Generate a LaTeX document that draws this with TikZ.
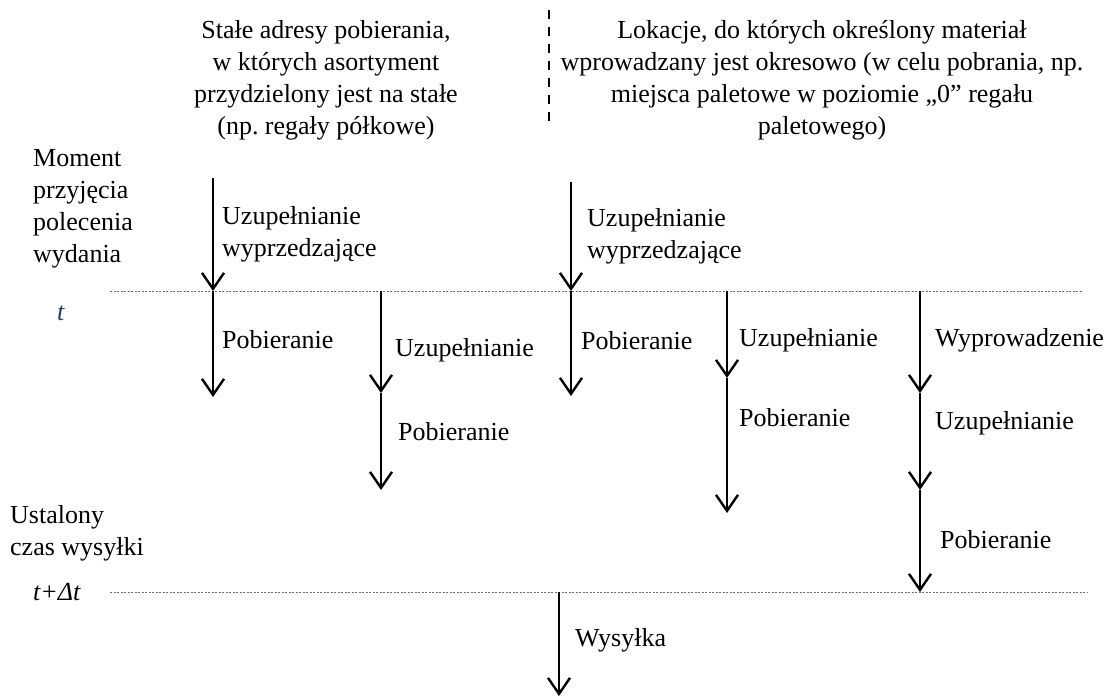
\documentclass[tikz,border=0pt]{standalone}
\usepackage{fontspec}
\setmainfont{Liberation Serif}
\usetikzlibrary{arrows.meta,positioning}
\frenchspacing
\definecolor{timeblue}{RGB}{38,58,98}
\definecolor{dotgray}{RGB}{110,110,110}
\tikzset{
  flow/.style={-{Straight Barb[length=16pt,width=22pt]}, line width=2.4pt},
  timeline/.style={draw=dotgray, line width=1pt, dash pattern=on 2pt off 1.5pt},
  divider/.style={line width=2.6pt, dash pattern=on 9pt off 8pt},
  lbl/.style={anchor=west, align=left, inner sep=0pt},
  head/.style={align=center, inner sep=0pt}
}

\begin{document}
\begin{tikzpicture}[x=1pt, y=-1pt, font=\fontsize{26}{32}\selectfont]
  \useasboundingbox (0,0) rectangle (1115,698);

  % --- headers ---
  \node[head] (fixedhead) at (326,80)
       {Stałe adresy pobierania,\\ w których asortyment\\ przydzielony jest na stałe\\ (np. regały półkowe)};
  \node[head] (varhead) at (822,80)
       {Lokacje, do których określony materiał\\ wprowadzany jest okresowo (w celu pobrania, np.\\ miejsca paletowe w poziomie „0” regału\\ paletowego)};
  \coordinate (sepTop) at (549,10);
  \coordinate (sepBot) at (549,126);
  \draw[divider] (sepTop) -- (sepBot);

  % --- time axis ---
  \node[lbl] (moment) at (33,209) {Moment\\ przyjęcia\\ polecenia\\ wydania};
  \node[lbl, text=timeblue] (tlbl) at (57,313) {\textit{t}};
  \node[lbl] (ustalony) at (10,533) {Ustalony\\ czas wysyłki};
  \node[lbl] (tdlbl) at (33,592) {\textit{t+Δt}};
  \coordinate (tL) at (110,291);
  \coordinate (tR) at (1083,291);
  \coordinate (dL) at (110,592);
  \coordinate (dR) at (1087,592);
  \draw[timeline] (tL) -- (tR);
  \draw[timeline] (dL) -- (dR);

  % --- column 1 ---
  \coordinate (c1a) at (213,178);
  \coordinate (c1b) at (213,291);
  \coordinate (c1c) at (213,397);
  \draw[flow] (c1a) -- (c1b);
  \draw[flow] (c1b) -- (c1c);
  \node[lbl] (c1up) at (222,234) {Uzupełnianie\\ wyprzedzające};
  \node[lbl] (c1pick) at (222,340) {Pobieranie};

  % --- column 2 ---
  \coordinate (c2a) at (381,291);
  \coordinate (c2b) at (381,393);
  \coordinate (c2c) at (381,490);
  \draw[flow] (c2a) -- (c2b);
  \draw[flow] (c2b) -- (c2c);
  \node[lbl] (c2up) at (395,350) {Uzupełnianie};
  \node[lbl] (c2pick) at (398,432) {Pobieranie};

  % --- column 3 ---
  \coordinate (c3a) at (571,182);
  \coordinate (c3b) at (571,291);
  \coordinate (c3c) at (571,396);
  \draw[flow] (c3a) -- (c3b);
  \draw[flow] (c3b) -- (c3c);
  \node[lbl] (c3up) at (587,236) {Uzupełnianie\\ wyprzedzające};
  \node[lbl] (c3pick) at (581,341) {Pobieranie};

  % --- column 4 ---
  \coordinate (c4a) at (727,291);
  \coordinate (c4b) at (727,378);
  \coordinate (c4c) at (727,513);
  \draw[flow] (c4a) -- (c4b);
  \draw[flow] (c4b) -- (c4c);
  \node[lbl] (c4up) at (739,340) {Uzupełnianie};
  \node[lbl] (c4pick) at (739,418) {Pobieranie};

  % --- column 5 ---
  \coordinate (c5a) at (920,291);
  \coordinate (c5b) at (920,393);
  \coordinate (c5c) at (920,490);
  \coordinate (c5d) at (920,592);
  \draw[flow] (c5a) -- (c5b);
  \draw[flow] (c5b) -- (c5c);
  \draw[flow] (c5c) -- (c5d);
  \node[lbl] (c5out) at (935,340) {Wyprowadzenie};
  \node[lbl] (c5up) at (935,423) {Uzupełnianie};
  \node[lbl] (c5pick) at (940,540) {Pobieranie};

  % --- shipping ---
  \coordinate (shipA) at (559,592);
  \coordinate (shipB) at (559,696);
  \draw[flow] (shipA) -- (shipB);
  \node[lbl] (ship) at (575,640) {Wysyłka};

\end{tikzpicture}
\end{document}
